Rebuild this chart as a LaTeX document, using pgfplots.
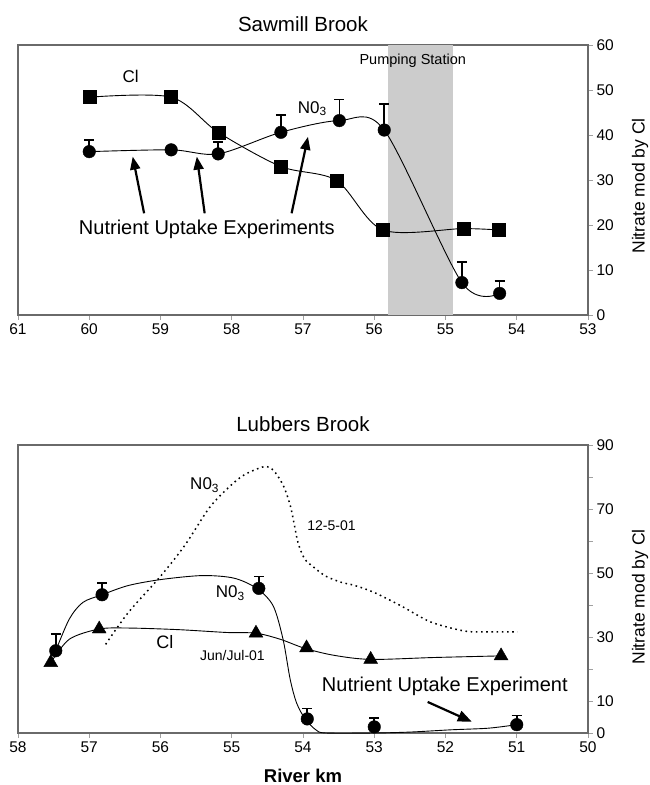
\documentclass[border=0pt]{standalone}
\usepackage{fontspec}
\setmainfont{Liberation Sans}
\usepackage{pgfplots}
\pgfplotsset{compat=1.18}
\usetikzlibrary{arrows.meta}
\definecolor{axgray}{HTML}{6A6A6A}
\definecolor{tickgray}{HTML}{A0A0A0}
\definecolor{band}{HTML}{CCCCCC}
\newcommand{\fs}[1]{\fontsize{#1}{#1}\selectfont}
\pgfplotsset{
  myaxis/.style={
    scale only axis, x dir=reverse,
    axis line style={axgray, line width=1.7pt},
    every tick/.style={tickgray, line width=0.8pt},
    major tick length=5pt,
    tick align=outside,
    xtick pos=lower, ytick pos=upper, yticklabel pos=upper,
    ticklabel style={font=\fs{15.5}},
    /pgf/number format/assume math mode=true,
    clip=false,
  },
  ebars/.style={error bars/.cd, y dir=plus, y explicit,
    error bar style={line width=1.6pt, black},
    error mark options={rotate=90, line width=1.6pt, mark size=5pt, black}},
}
\begin{document}
\begin{tikzpicture}
\useasboundingbox (0,0) rectangle (650pt,785pt);
% ---------------- Sawmill Brook ----------------
\begin{axis}[myaxis, at={(18pt,470pt)}, anchor=south west,
  width=570pt, height=270pt,
  xmin=53, xmax=61, ymin=0, ymax=60,
  xtick={53,54,...,61}, ytick={0,10,...,60}]
\addplot[fill=band, draw=none] coordinates {(55.81,0) (55.81,60) (54.89,60) (54.89,0)} -- cycle;
\addplot[black, line width=0.9pt, smooth] coordinates {(60.0,48.4) (58.85,48.4) (58.19,40.6) (57.31,33.0) (56.53,29.9) (55.88,18.9) (54.75,19.2) (54.26,18.9)};
\addplot[black, line width=0.9pt, smooth] coordinates {(60.0,36.3) (58.85,36.7) (58.19,35.8) (57.31,40.6) (56.49,43.2) (55.86,41.1) (54.77,7.2) (54.24,4.8)};
\addplot[black, only marks, mark=square*, mark size=6.5pt] coordinates {(60.0,48.4) (58.85,48.4) (58.19,40.6) (57.31,33.0) (56.53,29.9) (55.88,18.9) (54.75,19.2) (54.26,18.9)};
\addplot[black, only marks, mark=*, mark size=6.3pt, ebars] coordinates {(60.0,36.3) +- (0,2.6) (58.85,36.7) +- (0,0.01) (58.19,35.8) +- (0,2.7) (57.31,40.6) +- (0,3.8) (56.49,43.2) +- (0,4.7) (55.86,41.1) +- (0,5.8) (54.77,7.2) +- (0,4.6) (54.24,4.8) +- (0,2.8)};
\draw[black, line width=2.2pt, -{Triangle[length=13pt,width=10pt]}] (axis cs:59.23,22.6) -- (axis cs:59.39,35.2);
\draw[black, line width=2.2pt, -{Triangle[length=13pt,width=10pt]}] (axis cs:58.38,22.6) -- (axis cs:58.49,35.2);
\draw[black, line width=2.2pt, -{Triangle[length=13pt,width=10pt]}] (axis cs:57.16,22.6) -- (axis cs:56.93,39.6);
\node[font=\fs{17}] at (axis cs:59.42,53.0) {Cl};
\node[font=\fs{17}] at (axis cs:56.87,45.9) {N0\textsubscript{3}};
\node[font=\fs{20}] at (axis cs:58.35,19.0) {Nutrient Uptake Experiments};
\node[font=\fs{14.5}] at (axis cs:55.46,56.4) {Pumping Station};
\end{axis}
\node[font=\fs{20.5}] at (303pt,761pt) {Sawmill Brook};
\node[font=\fs{17.5}, rotate=90] at (640pt,599pt) {Nitrate mod by Cl};
% ---------------- Lubbers Brook ----------------
\begin{axis}[myaxis, at={(18pt,52pt)}, anchor=south west,
  width=570pt, height=288pt,
  xmin=50, xmax=58, ymin=0, ymax=90,
  xtick={50,51,...,58}, ytick={0,10,...,90},
  yticklabels={0,10,,30,,50,,70,,90}]
\addplot[black, line width=1.5pt, smooth, dash pattern=on 1.6pt off 3.6pt] coordinates {(56.77,27.7) (56.45,37.7) (56.01,48.7) (55.66,58.6) (55.32,70.2) (55.06,76.4) (54.83,80.6) (54.55,83.2) (54.42,82.2) (54.28,77.5) (54.18,71.2) (54.12,64.9) (54.07,59.5) (53.98,54.5) (53.86,52.0) (53.68,49.0) (53.45,47.0) (53.29,46.2) (53.01,44.0) (52.63,39.8) (52.25,35.1) (51.96,33.0) (51.68,31.7) (51.4,31.6) (50.99,31.6)};
\addplot[black, line width=0.9pt, smooth] coordinates {(57.47,25.7) (57.28,35.6) (57.09,40.8) (56.82,43.2) (56.45,46.1) (55.98,48.0) (55.41,49.2) (54.97,48.4) (54.65,45.2) (54.42,39.8) (54.28,29.3) (54.18,16.8) (54.09,9.4) (53.97,4.4) (53.82,1.0) (53.68,0) (53.0,0) (52.49,0.3) (51.92,1.0) (51.4,1.5) (51.0,2.6)};
\addplot[black, line width=0.9pt, smooth] coordinates {(57.54,22.0) (57.28,29.3) (56.86,32.5) (56.45,32.8) (55.75,32.3) (55.06,31.4) (54.66,31.2) (54.32,29.3) (53.98,26.5) (53.57,24.3) (53.05,23.0) (52.15,23.6) (51.22,24.1)};
\addplot[black, only marks, mark=triangle*, mark size=8pt] coordinates {(57.54,22.0) (56.86,32.5) (54.66,31.2) (53.95,26.6) (53.05,23.0) (51.22,24.1)};
\addplot[black, only marks, mark=*, mark size=6.3pt, ebars] coordinates {(57.47,25.7) +- (0,5.2) (56.82,43.2) +- (0,3.7) (54.62,45.2) +- (0,3.7) (53.94,4.4) +- (0,3.2) (53.0,1.9) +- (0,2.7) (51.0,2.6) +- (0,2.9)};
\draw[black, line width=2.2pt, -{Triangle[length=14pt,width=11pt]}] (axis cs:52.25,9.7) -- (axis cs:51.63,3.5);
\node[font=\fs{17}] at (axis cs:55.38,77.5) {N0\textsubscript{3}};
\node[font=\fs{14}] at (axis cs:53.6,64.9) {12-5-01};
\node[font=\fs{17}] at (axis cs:55.02,43.8) {N0\textsubscript{3}};
\node[font=\fs{18}] at (axis cs:55.94,28.3) {Cl};
\node[font=\fs{14}] at (axis cs:54.99,24.1) {Jun/Jul-01};
\node[font=\fs{20}] at (axis cs:52.01,14.7) {Nutrient Uptake Experiment};
\end{axis}
\node[font=\fs{20.5}] at (303pt,361pt) {Lubbers Brook};
\node[font=\fs{17.5}, rotate=90] at (640pt,188pt) {Nitrate mod by Cl};
\node[font=\bfseries\fs{18.5}] at (303pt,9pt) {River km};
\end{tikzpicture}
\end{document}
